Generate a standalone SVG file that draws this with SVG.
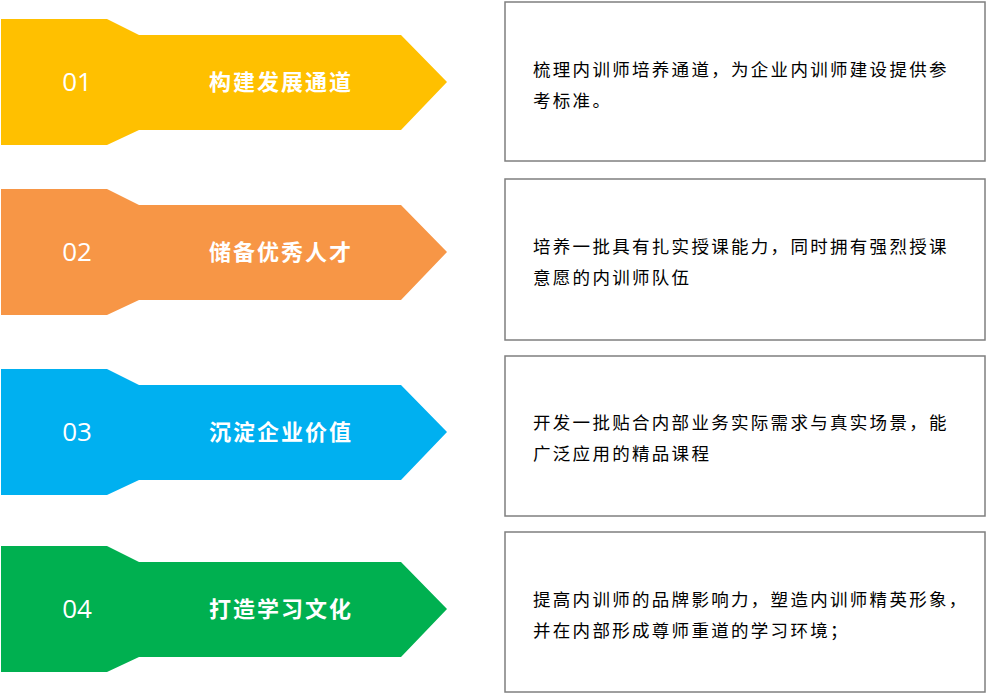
<svg xmlns="http://www.w3.org/2000/svg" width="990" height="694" viewBox="0 0 990 694">
<style>
.num{font-family:"Open Sans","Noto Sans",sans-serif;font-size:26px;fill:#fff;text-anchor:middle}
.ttl{font-family:"Noto Sans CJK SC",sans-serif;font-size:22px;font-weight:bold;fill:#fff;letter-spacing:2px}
.box{fill:#fff;stroke:#7f7f7f;stroke-width:1.5}
.desc{font-family:"Noto Sans CJK SC",sans-serif;font-size:17.5px;fill:#000;letter-spacing:2.3px}
</style>
<rect width="990" height="694" fill="#fff"/>
<defs><path id="arr" d="M1,0 H107 L139,16 H401 L447,63 L401,111 H139 L107,126 H1 Z"/></defs>
<g id="node1"><use href="#arr" y="19" fill="#ffc000"/><text class="num" x="77" y="91">01</text><text class="ttl" x="209" y="90">构建发展通道</text>
<rect class="box" x="505" y="2" width="480" height="159"/><text class="desc" x="533" y="76">梳理内训师培养通道，为企业内训师建设提供参</text><text class="desc" x="533" y="107">考标准。</text></g>
<g id="node2"><use href="#arr" y="189" fill="#f79646"/><text class="num" x="77" y="261">02</text><text class="ttl" x="209" y="260">储备优秀人才</text>
<rect class="box" x="505" y="179" width="480" height="161"/><text class="desc" x="533" y="253">培养一批具有扎实授课能力，同时拥有强烈授课</text><text class="desc" x="533" y="284">意愿的内训师队伍</text></g>
<g id="node3"><use href="#arr" y="369" fill="#00b0f0"/><text class="num" x="77" y="441">03</text><text class="ttl" x="209" y="440">沉淀企业价值</text>
<rect class="box" x="505" y="356" width="480" height="160"/><text class="desc" x="533" y="429">开发一批贴合内部业务实际需求与真实场景，能</text><text class="desc" x="533" y="460">广泛应用的精品课程</text></g>
<g id="node4"><use href="#arr" y="546" fill="#00b050"/><text class="num" x="77" y="618">04</text><text class="ttl" x="209" y="617">打造学习文化</text>
<rect class="box" x="505" y="532" width="480" height="160"/><text class="desc" x="533" y="606">提高内训师的品牌影响力，塑造内训师精英形象，</text><text class="desc" x="533" y="637">并在内部形成尊师重道的学习环境；</text></g>
<g id="connectors"></g>
</svg>
